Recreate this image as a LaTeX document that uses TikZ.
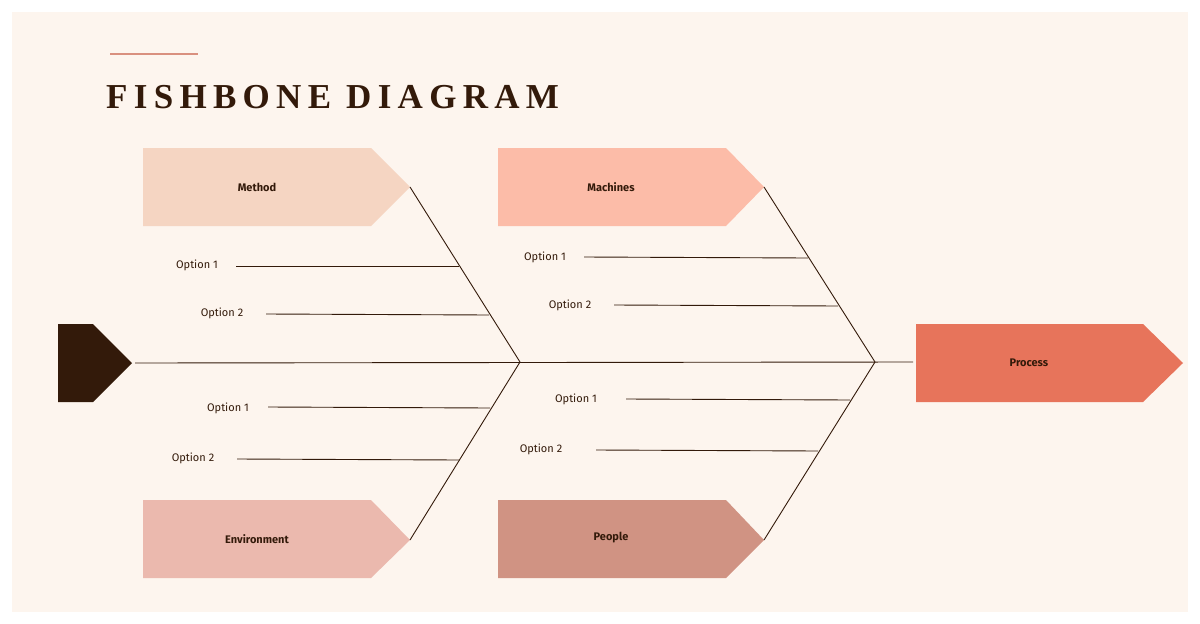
\documentclass[tikz,border=0pt]{standalone}
\usepackage{fontspec}
\setmainfont{Fira Sans}
\newfontfamily\titlefont[LetterSpace=18]{Liberation Serif}
\definecolor{bg}{HTML}{FDF5EE}
\definecolor{ink}{HTML}{331A0A}
\definecolor{cmethod}{HTML}{F5D5C2}
\definecolor{cmach}{HTML}{FCBCA8}
\definecolor{cenv}{HTML}{EBB9AE}
\definecolor{cpeople}{HTML}{D09383}
\definecolor{cproc}{HTML}{E7745B}
\definecolor{crule}{HTML}{D9907F}
\begin{document}
\begin{tikzpicture}[x=1pt,y=-1pt,
  bone/.style={draw=ink,line width=0.9pt},
  lab/.style={font=\bfseries\fontsize{11}{13}\selectfont,text=ink},
  opt/.style={font=\fontsize{11}{13}\selectfont,text=ink,anchor=center}]
\useasboundingbox (0,0) rectangle (1200,624);
\fill[white] (0,0) rectangle (1200,624);
\fill[bg] (12,12) rectangle (1188,612);
\draw[crule,line width=2pt] (110,54) -- (198,54);
\node[anchor=west,inner sep=0,text=ink,font=\titlefont\bfseries\fontsize{35}{40}\selectfont] (title) at (106,97) {FISHBONE DIAGRAM};
% arrows
\newcommand\arrowbox[6]{\fill[#5] (#1,#2) -- (#3,#2) -- (#4,{(#2+#2+78)/2}) -- (#3,#2+78) -- (#1,#2+78) -- cycle;
  \node[lab] (#6) at ({(#1+#3)/2},{#2+39}) {};}
\fill[cmethod] (143,148) -- (371,148) -- (410,187) -- (371,226) -- (143,226) -- cycle;
\node[lab] (method) at (257,187) {Method};
\fill[cmach] (498,148) -- (726,148) -- (764,187) -- (726,226) -- (498,226) -- cycle;
\node[lab] (mach) at (611,187) {Machines};
\fill[cenv] (143,500) -- (371,500) -- (410,540) -- (371,578) -- (143,578) -- cycle;
\node[lab] (env) at (257,539) {Environment};
\fill[cpeople] (498,500) -- (726,500) -- (764,540) -- (726,578) -- (498,578) -- cycle;
\node[lab] (people) at (611,538) {People};
\fill[cproc] (916,324) -- (1143,324) -- (1183,363) -- (1143,402) -- (916,402) -- cycle;
\node[lab] (proc) at (1029,363) {Process};
\fill[ink] (58,324) -- (93,324) -- (132,363) -- (93,402) -- (58,402) -- cycle;
\coordinate (head) at (135,363);
\coordinate (tail) at (913,362);
\coordinate (j1) at (520,362);
\coordinate (j2) at (875,362);
\coordinate (t1) at (410,187);
\coordinate (t2) at (764,187);
\coordinate (t3) at (410,540);
\coordinate (t4) at (764,540);
\draw[bone] (head) -- (tail);
\draw[bone] (t1) -- (j1); \draw[bone] (t3) -- (j1);
\draw[bone] (t2) -- (j2); \draw[bone] (t4) -- (j2);
% options
\node[opt] (a1) at (197,265) {Option 1}; \coordinate (a1e) at (459,266); \draw[bone] (236,266) -- (a1e);
\node[opt] (a2) at (222,313) {Option 2}; \coordinate (a2e) at (489,315); \draw[bone] (266,314) -- (a2e);
\node[opt] (b1) at (545,257) {Option 1}; \coordinate (b1e) at (808,258); \draw[bone] (584,257) -- (b1e);
\node[opt] (b2) at (570,305) {Option 2}; \coordinate (b2e) at (838,306); \draw[bone] (614,305) -- (b2e);
\node[opt] (c1) at (228,408) {Option 1}; \coordinate (c1e) at (490,408); \draw[bone] (268,407) -- (c1e);
\node[opt] (c2) at (193,458) {Option 2}; \coordinate (c2e) at (459,460); \draw[bone] (237,459) -- (c2e);
\node[opt] (d1) at (576,399) {Option 1}; \coordinate (d1e) at (850,400); \draw[bone] (626,399) -- (d1e);
\node[opt] (d2) at (541,449) {Option 2}; \coordinate (d2e) at (818,451); \draw[bone] (596,450) -- (d2e);
\end{tikzpicture}
\end{document}
